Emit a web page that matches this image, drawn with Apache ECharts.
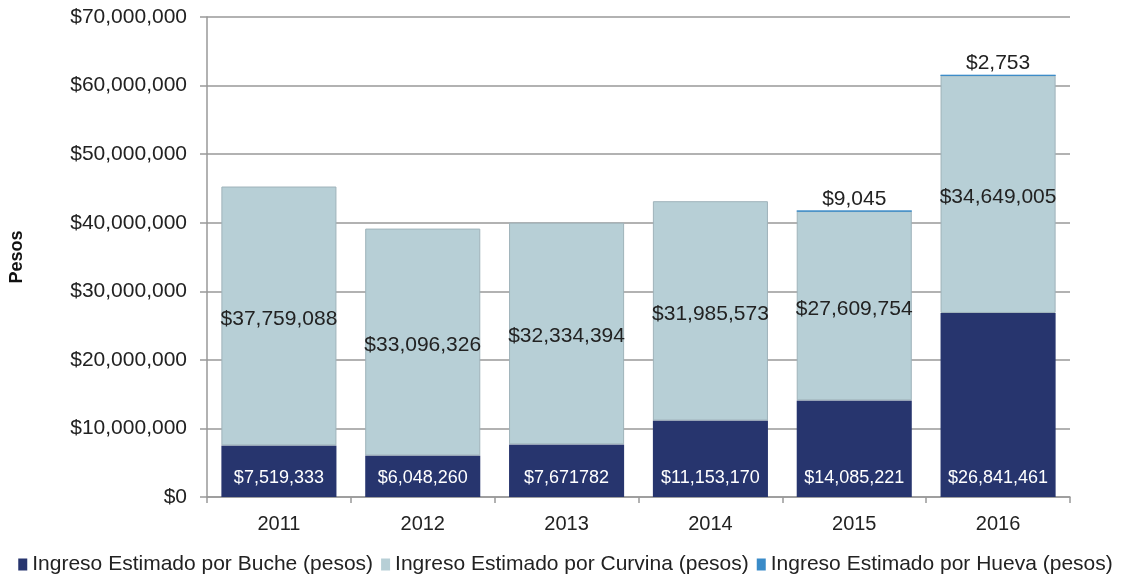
<!DOCTYPE html>
<html>
<head>
<meta charset="utf-8">
<script src="https://cdn.jsdelivr.net/npm/echarts@6/dist/echarts.min.js"></script>
<style>
  html, body { margin: 0; padding: 0; background: #fff; }
  #chart { width: 1131px; height: 576px; }
</style>
</head>
<body>
<div id="chart"></div>
<script>
// datos por año
const years = ['2011', '2012', '2013', '2014', '2015', '2016']
const buche = [7519333, 6048260, 7671782, 11153170, 14085221, 26841461]
// el 2013 viene así en la gráfica original
const bucheLabels = ['$7,519,333', '$6,048,260', '$7,671782', '$11,153,170', '$14,085,221', '$26,841,461']
const curvina = [37759088, 33096326, 32334394, 31985573, 27609754, 34649005]
const hueva = [null, null, null, null, 9045, 2753]
const seriesNames = [
  'Ingreso Estimado por Buche (pesos)',
  'Ingreso Estimado por Curvina (pesos)',
  'Ingreso Estimado por Hueva (pesos)'
]

const fmt = v => '$' + Math.round(v).toLocaleString('en-US')
const font = 'Liberation Sans, Arial, Helvetica, sans-serif'

const myChart = echarts.init(document.getElementById('chart'))
const options = {
  animation: false,
  textStyle: { fontFamily: font },
  grid: { left: 207, right: 61, top: 17, bottom: 79 },
  legend: {
    bottom: 0,
    padding: [0, 5, 1, 5],
    left: 'center',
    icon: 'rect',
    itemWidth: 9,
    itemHeight: 12,
    itemGap: 8,
    itemStyle: { borderWidth: 0 },
    textStyle: { fontSize: 21, color: '#222', fontFamily: font },
    data: seriesNames
  },
  xAxis: {
    type: 'category',
    data: years,
    axisLine: { lineStyle: { color: '#999', width: 1.5 } },
    axisTick: { show: true, length: 6, lineStyle: { color: '#999', width: 1.5 } },
    axisLabel: { fontSize: 20, color: '#222', margin: 17 }
  },
  yAxis: {
    type: 'value',
    min: 0,
    max: 70000000,
    interval: 10000000,
    name: 'Pesos',
    nameLocation: 'middle',
    nameGap: 181,
    nameTextStyle: { fontSize: 18, fontWeight: 'bold', color: '#111' },
    axisLine: { show: true, lineStyle: { color: '#999', width: 1.5 } },
    axisTick: { show: true, length: 7, lineStyle: { color: '#999', width: 1.5 } },
    splitLine: { lineStyle: { color: '#999', width: 1.5 } },
    axisLabel: { fontSize: 21, color: '#222', margin: 20, formatter: v => fmt(v) }
  },
  series: [
    {
      name: seriesNames[0],
      type: 'bar',
      stack: 'total',
      barWidth: '80%',
      data: buche,
      itemStyle: { color: '#27356e' },
      label: {
        show: true,
        position: 'insideBottom',
        distance: 10,
        fontSize: 18,
        color: '#fff',
        formatter: p => bucheLabels[p.dataIndex]
      }
    },
    {
      name: seriesNames[1],
      type: 'bar',
      stack: 'total',
      data: curvina,
      itemStyle: { color: '#b7cfd6', borderColor: '#9fb3ba', borderWidth: 1 },
      label: {
        show: true,
        position: 'inside',
        offset: [0, 3],
        fontSize: 21,
        color: '#222',
        formatter: p => fmt(p.value)
      }
    },
    {
      name: seriesNames[2],
      type: 'bar',
      stack: 'total',
      data: hueva,
      itemStyle: { color: '#3a8bc8', borderColor: '#3a8bc8', borderWidth: 1 },
      label: {
        show: true,
        position: 'top',
        distance: 1,
        fontSize: 21,
        color: '#222',
        formatter: p => fmt(p.value)
      }
    }
  ]
}
options && myChart.setOption(options)
</script>
</body>
</html>
